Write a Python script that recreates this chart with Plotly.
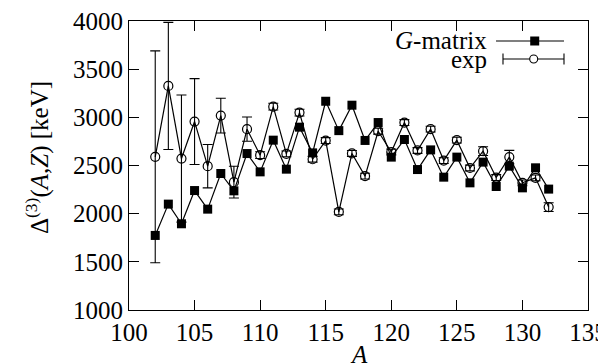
import plotly.graph_objects as go

A = list(range(102, 133))
g_matrix = [1774, 2099, 1895, 2240, 2047, 2417, 2237, 2624, 2434, 2763, 2462,
            2898, 2631, 3167, 2862, 3126, 2760, 2946, 2587, 2770, 2458, 2662,
            2379, 2587, 2320, 2535, 2282, 2493, 2268, 2476, 2255]
exp_vals = [2590, 3326, 2572, 2956, 2493, 3018, 2327, 2877, 2607, 3111, 2621,
            3049, 2565, 2759, 2019, 2625, 2390, 2856, 2640, 2946, 2656, 2877,
            2551, 2763, 2474, 2649, 2375, 2587, 2320, 2372, 2068]
exp_err = [1100, 660, 660, 446, 225, 180, 165, 126, 35, 35, 30,
           35, 30, 30, 30, 30, 30, 30, 30, 30, 30, 30,
           30, 30, 30, 45, 30, 70, 30, 30, 45]

x_ticks = [100, 105, 110, 115, 120, 125, 130, 135]
y_ticks = [1000, 1500, 2000, 2500, 3000, 3500, 4000]

FONT = "Liberation Serif"
FS = 25

fig = go.Figure()
fig.add_trace(go.Scatter(
    x=A, y=exp_vals, mode="lines+markers", name="exp",
    line=dict(color="black", width=1.2),
    marker=dict(symbol="circle-open", size=9, color="black", line=dict(width=1.2)),
    error_y=dict(type="data", array=exp_err, visible=True, color="black",
                 thickness=1.1, width=5),
    showlegend=False))
fig.add_trace(go.Scatter(
    x=A, y=g_matrix, mode="lines+markers", name="G-matrix",
    line=dict(color="black", width=1.2),
    marker=dict(symbol="square", size=9, color="black"),
    showlegend=False))

# manual legend (text right-aligned, sample on the right, as in the reference)
gy, ey = 0.9308, 0.8685
shapes = [
    dict(type="line", xref="paper", yref="paper", x0=0.7996, x1=0.9477, y0=gy, y1=gy,
         line=dict(color="black", width=1.2)),
    dict(type="rect", xref="paper", yref="paper", xsizemode="pixel", ysizemode="pixel",
         xanchor=0.8839, yanchor=gy, x0=-4.5, x1=4.5, y0=-4.5, y1=4.5,
         fillcolor="black", line=dict(width=0)),
    dict(type="line", xref="paper", yref="paper", x0=0.8148, x1=0.9477, y0=ey, y1=ey,
         line=dict(color="black", width=1.1)),
    dict(type="line", xref="paper", yref="paper", ysizemode="pixel", yanchor=ey,
         x0=0.8148, x1=0.8148, y0=-5.5, y1=5.5, line=dict(color="black", width=1.1)),
    dict(type="line", xref="paper", yref="paper", ysizemode="pixel", yanchor=ey,
         x0=0.9477, x1=0.9477, y0=-5.5, y1=5.5, line=dict(color="black", width=1.1)),
    dict(type="circle", xref="paper", yref="paper", xsizemode="pixel", ysizemode="pixel",
         xanchor=0.8817, yanchor=ey, x0=-4, x1=4, y0=-4, y1=4,
         fillcolor="white", line=dict(color="black", width=1.1)),
]
tfont = dict(family=FONT, size=FS, color="black")
annotations = [
    dict(xref="paper", yref="paper", x=0.784, y=gy, xanchor="right", yanchor="middle",
         text="<i>G</i>-matrix", showarrow=False, font=tfont),
    dict(xref="paper", yref="paper", x=0.784, y=ey, xanchor="right", yanchor="middle",
         text="exp", showarrow=False, font=tfont),
    dict(xref="paper", yref="paper", x=0.5, y=-0.155, xanchor="center", yanchor="middle",
         text="<i>A</i>", showarrow=False, font=tfont),
    dict(xref="paper", yref="paper", x=-0.198, y=0.526, xanchor="center", yanchor="middle",
         textangle=-90, text="Δ<sup>(3)</sup>(<i>A</i>,<i>Z</i>) [keV]",
         showarrow=False, font=tfont),
]

axis_common = dict(
    showgrid=False, zeroline=False, showline=True, linecolor="black", linewidth=1.2,
    mirror="ticks", ticks="inside", ticklen=10, tickwidth=1, tickcolor="black",
    automargin=False, ticklabeloverflow="allow",
    tickfont=dict(family=FONT, size=FS, color="black"),
)

fig.update_layout(
    template="none",
    width=606, height=364,
    margin=dict(l=121, r=26, t=13, b=62, autoexpand=False),
    paper_bgcolor="white", plot_bgcolor="white",
    font=dict(family=FONT, size=FS, color="black"),
    shapes=shapes, annotations=annotations,
    xaxis=dict(range=[100, 135], tickvals=x_ticks, ticktext=[str(v) for v in x_ticks],
               **axis_common),
    yaxis=dict(range=[1000, 4000], tickvals=y_ticks, ticktext=[str(v) for v in y_ticks],
               **axis_common),
)

fig.write_html("out.html")
